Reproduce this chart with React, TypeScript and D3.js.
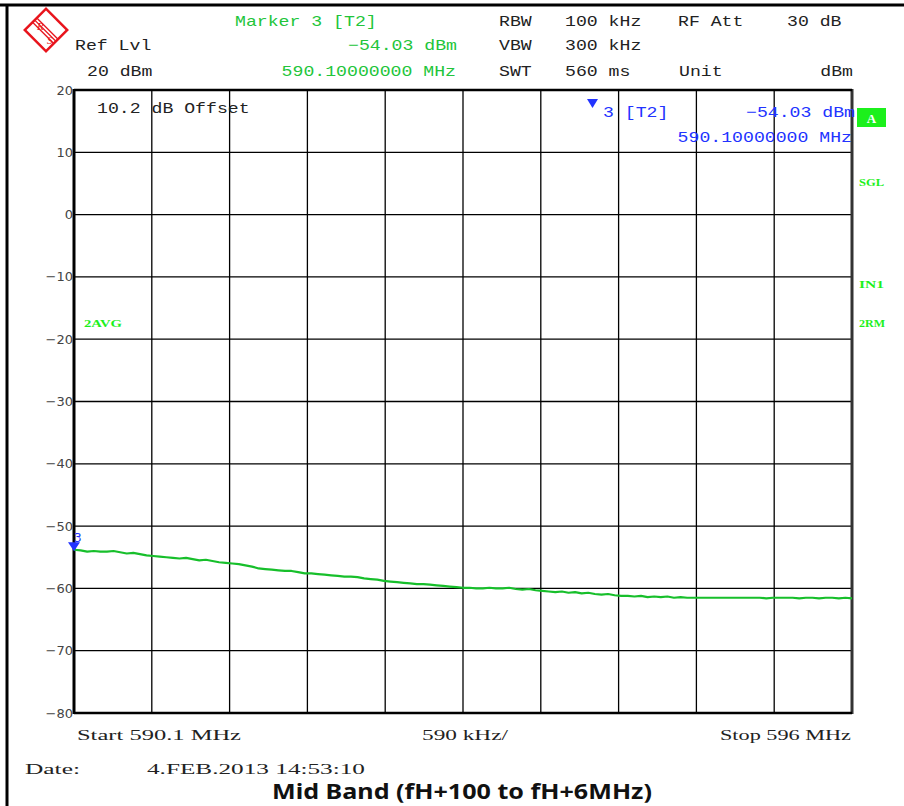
import React from "react";
import * as d3 from "d3";

const startMHz = 590.1;
const stopMHz = 596;
const yTicks = [20, 10, 0, -10, -20, -30, -40, -50, -60, -70, -80];
const xDivisions = 10;
const traceDbm = [
  -53.8, -53.9, -54.1, -54.0, -54.1, -54.1, -54.0, -54.2, -54.4, -54.3, -54.5, -54.7,
  -54.8, -54.9, -55.0, -55.1, -55.2, -55.1, -55.3, -55.5, -55.4, -55.6, -55.8, -55.9,
  -56.0, -56.1, -56.3, -56.5, -56.8, -56.9, -57.0, -57.1, -57.2, -57.2, -57.4, -57.6,
  -57.6, -57.7, -57.8, -57.9, -58.0, -58.1, -58.1, -58.2, -58.4, -58.5, -58.6, -58.8,
  -58.9, -59.0, -59.1, -59.2, -59.3, -59.3, -59.4, -59.5, -59.6, -59.7, -59.8, -59.9,
  -59.9, -60.0, -60.0, -59.9, -60.0, -60.0, -59.9, -60.1, -60.2, -60.1, -60.3, -60.4,
  -60.5, -60.6, -60.5, -60.7, -60.6, -60.8, -60.7, -60.9, -61.0, -60.9, -61.1, -61.2,
  -61.2, -61.3, -61.2, -61.4, -61.3, -61.4, -61.3, -61.5, -61.4, -61.5, -61.5, -61.5,
  -61.5, -61.5, -61.5, -61.5, -61.5, -61.5, -61.5, -61.5, -61.5, -61.6, -61.5, -61.5,
  -61.5, -61.5, -61.6, -61.5, -61.5, -61.6, -61.5, -61.5, -61.6, -61.5, -61.6,
];
const markerFreq = 590.1;
const markerLevel = -54.03;

const MONO = "'Liberation Mono', 'DejaVu Sans Mono', monospace";
const SERIF = "'Liberation Serif', 'DejaVu Serif', serif";
const SANS = "'DejaVu Sans', sans-serif";
const CW = 10.9;

const GREEN_T = "#22c53a";
const GREEN_B = "#1cf01c";
const BLUE = "#2233ff";

type TP = {
  x: number; y: number; s: string; fill?: string; anchor?: "start" | "middle" | "end";
  cw?: number; size?: number; family?: string; weight?: string | number; w?: number;
};
const T = ({ x, y, s, fill = "#222", anchor = "start", cw = CW, size = 15, family = MONO, weight = "normal", w }: TP) => (
  <text x={x} y={y} fill={fill} textAnchor={anchor} fontSize={size} fontFamily={family} fontWeight={weight}
    textLength={w ?? s.length * cw} lengthAdjust="spacingAndGlyphs">{s}</text>
);

export default function App() {
  const L = 74, R = 852, TOP = 90, BOT = 713;
  const x = d3.scaleLinear().domain([startMHz, stopMHz]).range([L, R]);
  const y = d3.scaleLinear().domain([-80, 20]).range([BOT, TOP]);
  const n = traceDbm.length;
  const freqs = traceDbm.map((_, i) => startMHz + (i * (stopMHz - startMHz)) / (n - 1));
  const line = d3.line<number>().x((_, i) => x(freqs[i])).y((d) => y(d));
  const xGrid = d3.range(xDivisions + 1).map((i) => startMHz + (i * (stopMHz - startMHz)) / xDivisions);
  const mx = x(markerFreq), my = y(markerLevel);

  return (
    <svg width={904} height={806} style={{ position: "absolute", left: 0, top: 0, background: "#fff" }}>
      {/* outer frame */}
      <line x1={0} x2={904} y1={5} y2={5} stroke="#000" strokeWidth={3} />
      <line x1={7} x2={7} y1={4} y2={806} stroke="#000" strokeWidth={3} />

      {/* logo */}
      <g transform="translate(46,30) rotate(45)">
        <rect x={-15} y={-15} width={30} height={30} fill="none" stroke="#e8141c" strokeWidth={2.5} />
        <line x1={-15} x2={15} y1={-2} y2={-2} stroke="#e8141c" strokeWidth={1.3} />
        <line x1={-15} x2={15} y1={1} y2={1} stroke="#e8141c" strokeWidth={1.3} />
        <line x1={-15} x2={15} y1={4} y2={4} stroke="#e8141c" strokeWidth={1.3} />
      </g>
      <text x={37} y={30} fontSize={11} fontStyle="italic" fontFamily={SERIF} fill="#e8141c">R</text>
      <text x={47} y={44} fontSize={11} fontStyle="italic" fontFamily={SERIF} fill="#e8141c">S</text>

      {/* header */}
      <T x={235} y={26} s="Marker 3 [T2]" fill={GREEN_T} />
      <T x={499} y={26} s="RBW" />
      <T x={565} y={26} s="100 kHz" />
      <T x={678} y={26} s="RF Att" />
      <T x={787} y={26} s="30 dB" />
      <T x={75} y={50} s="Ref Lvl" />
      <T x={457} y={50} s="−54.03 dBm" fill={GREEN_T} anchor="end" />
      <T x={499} y={50} s="VBW" />
      <T x={565} y={50} s="300 kHz" />
      <T x={87} y={76} s="20 dBm" />
      <T x={456} y={76} s="590.10000000 MHz" fill={GREEN_T} anchor="end" />
      <T x={499} y={76} s="SWT" />
      <T x={565} y={76} s="560 ms" />
      <T x={679} y={76} s="Unit" />
      <T x={853} y={76} s="dBm" anchor="end" />

      {/* grid */}
      {yTicks.map((t) => (
        <line key={"h" + t} x1={L} x2={R} y1={y(t)} y2={y(t)} stroke="#000" strokeWidth={1.3} />
      ))}
      {xGrid.map((f, i) => (
        <line key={"v" + i} x1={x(f)} x2={x(f)} y1={TOP} y2={BOT} stroke="#000" strokeWidth={1.3} />
      ))}
      <line x1={L} x2={L} y1={TOP - 1} y2={BOT + 1} stroke="#000" strokeWidth={3} />
      <line x1={R} x2={R} y1={TOP - 1} y2={BOT + 1} stroke="#333" strokeWidth={3} />
      <line x1={L} x2={R} y1={TOP} y2={TOP} stroke="#000" strokeWidth={2.5} />
      <line x1={L} x2={R} y1={BOT} y2={BOT} stroke="#000" strokeWidth={2.5} />

      {/* y labels */}
      {yTicks.map((t) => (
        <text key={"l" + t} x={L - 1} y={y(t)} dy="0.35em" textAnchor="end" fontSize={13} fontFamily={SANS} fill="#444">
          {t < 0 ? "−" + Math.abs(t) : String(t)}
        </text>
      ))}

      {/* in-plot texts */}
      <T x={97} y={113} s="10.2 dB Offset" />
      <path d="M587,99 L598,99 L592.5,108 Z" fill={BLUE} />
      <T x={603} y={117} s="3 [T2]" fill={BLUE} />
      <T x={855} y={117} s="−54.03 dBm" fill={BLUE} anchor="end" />
      <T x={852} y={142} s="590.10000000 MHz" fill={BLUE} anchor="end" />

      {/* right-side labels */}
      <rect x={857} y={108} width={29} height={19} fill={GREEN_B} />
      <text x={871.5} y={123} textAnchor="middle" fontSize={13} fontWeight="bold" fontFamily={SERIF} fill="#fff">A</text>
      <T x={859} y={186} s="SGL" fill={GREEN_B} size={11} weight="bold" family={SERIF} w={25} />
      <T x={859} y={288} s="IN1" fill={GREEN_B} size={11} weight="bold" family={SERIF} w={25} />
      <T x={859} y={327} s="2RM" fill={GREEN_B} size={11} weight="bold" family={SERIF} w={26} />
      <T x={84} y={327} s="2AVG" fill={GREEN_B} size={11} weight="bold" family={SERIF} w={38} />

      {/* trace */}
      <path d={line(traceDbm) ?? ""} fill="none" stroke="#17bf2b" strokeWidth={2.2} strokeLinejoin="round" />

      {/* start marker */}
      <path d={`M${mx - 6},${my - 9} L${mx + 6},${my - 9} L${mx},${my} Z`} fill={BLUE} />
      <text x={mx} y={my - 9} fontSize={12} fontFamily={SANS} fill={BLUE}>3</text>

      {/* bottom */}
      <T x={77} y={740} s="Start 590.1 MHz" family={SERIF} w={164} />
      <T x={465} y={740} s="590 kHz/" family={SERIF} anchor="middle" w={86} />
      <T x={851} y={740} s="Stop 596 MHz" family={SERIF} anchor="end" w={131} />
      <T x={25} y={774} s="Date:" family={SERIF} w={55} />
      <T x={147} y={774} s="4.FEB.2013  14:53:10" family={SERIF} w={218} />
      <text x={462} y={799} textAnchor="middle" fontSize={21} fontWeight="bold" fontFamily="'Noto Sans', 'Open Sans', sans-serif"
        fill="#111" textLength={380} lengthAdjust="spacingAndGlyphs">Mid Band (fH+100 to fH+6MHz)</text>
    </svg>
  );
}
